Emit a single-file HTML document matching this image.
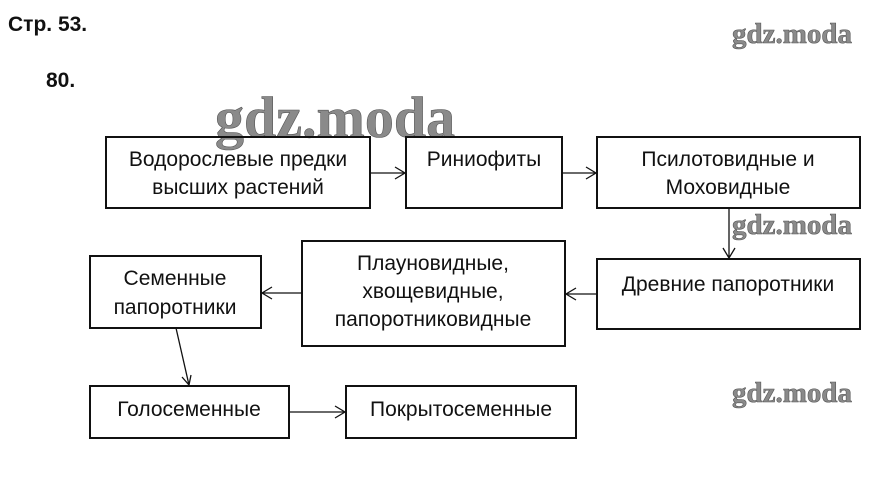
<!DOCTYPE html>
<html><head><meta charset="utf-8"><style>
html,body{margin:0;padding:0;background:#fff;}
svg{display:block;}
text{font-family:"Liberation Sans",sans-serif;fill:#111;}
.wm{font-family:"Liberation Serif",serif;font-weight:bold;fill:#8a8a8a;stroke:#555;stroke-width:0.6;}
</style></head><body>
<svg width="877" height="492" viewBox="0 0 877 492" xmlns="http://www.w3.org/2000/svg">
<rect width="877" height="492" fill="#fff"/>
<text x="8" y="31" font-size="21" font-weight="bold">Стр. 53.</text>
<text x="46" y="87" font-size="21" font-weight="bold">80.</text>
<text class="wm" x="732" y="43" font-size="29">gdz.moda</text>
<text class="wm" x="215" y="137" font-size="58">gdz.moda</text>
<text class="wm" x="732" y="234" font-size="29">gdz.moda</text>
<text class="wm" x="732" y="402" font-size="29">gdz.moda</text>
<g fill="none" stroke="#111" stroke-width="2">
<rect x="106" y="137" width="264" height="71"/>
<rect x="406" y="137" width="156" height="71"/>
<rect x="597" y="137" width="263" height="71"/>
<rect x="597" y="259" width="263" height="70"/>
<rect x="302" y="241" width="263" height="105"/>
<rect x="90" y="256" width="171" height="72"/>
<rect x="90" y="386" width="199" height="52"/>
<rect x="346" y="386" width="230" height="52"/>
</g>
<g fill="none" stroke="#111" stroke-width="1.3">
<path d="M370 173H405M395 167L405 173L395 179"/>
<path d="M562 173H596M586 167L596 173L586 179"/>
<path d="M729 208V258M723 248L729 258L735 248"/>
<path d="M597 294H566M576 288L566 294L576 300"/>
<path d="M302 293H262M272 287L262 293L272 299"/>
<path d="M176 328L189 385M182 377L189 385L191 375"/>
<path d="M289 412H345M335 406L345 412L335 418"/>
</g>
<g font-size="21" text-anchor="middle">
<text x="238" y="166">Водорослевые предки</text>
<text x="238" y="194">высших растений</text>
<text x="484" y="166">Риниофиты</text>
<text x="728" y="166">Псилотовидные и</text>
<text x="728" y="194">Моховидные</text>
<text x="728" y="291">Древние папоротники</text>
<text x="433" y="270">Плауновидные,</text>
<text x="433" y="298">хвощевидные,</text>
<text x="433" y="326">папоротниковидные</text>
<text x="175" y="285">Семенные</text>
<text x="175" y="314">папоротники</text>
<text x="189" y="416">Голосеменные</text>
<text x="461" y="416">Покрытосеменные</text>
</g>
</svg>
</body></html>
